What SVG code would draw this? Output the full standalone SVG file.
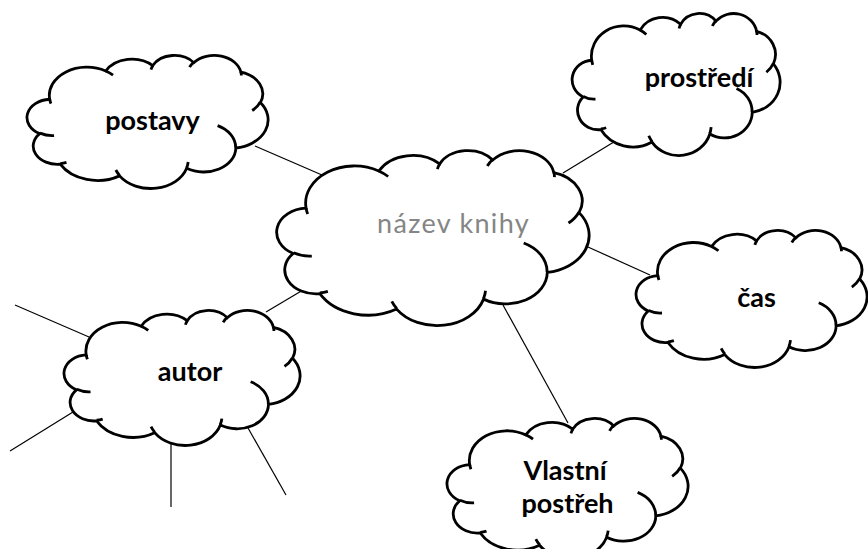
<svg xmlns="http://www.w3.org/2000/svg" xmlns:xlink="http://www.w3.org/1999/xlink" width="868" height="549" viewBox="0 0 868 549">
<style>
.conn line { stroke: #000; stroke-width: 1.2; fill: none; }
.lbl { font-family: Lato, "Open Sans", "Liberation Sans", sans-serif; font-weight: bold; font-size: 27px; fill: #000; text-anchor: middle; }
.title { font-family: Lato, "Open Sans", "Liberation Sans", sans-serif; font-weight: normal; font-size: 27px; fill: #858585; text-anchor: middle; letter-spacing: 1.3px; }
</style>
<defs>
<g id="cloud">
<path fill="#fff" stroke="#000" stroke-width="2.8" vector-effect="non-scaling-stroke" d="M3900,14370 A6753,9190 0 0 1 14005,5202 A5333,7267 0 0 1 22456,3433 A4365,5945 0 0 1 29833,2481 A4857,6595 0 0 1 38318,5576 A5333,7273 0 0 1 41819,15460 A6775,9220 0 0 1 37405,30203 A5785,7867 0 0 1 28556,36814 A6752,9215 0 0 1 16481,39265 A7720,10543 0 0 1 5805,35470 A4360,5918 0 0 1 2114,25549 A4345,5945 0 0 1 3900,14370 Z"/>
<path fill="none" stroke="#000" stroke-width="2.8" vector-effect="non-scaling-stroke" d="M4693,26177 A4345,5945 0 0 1 2160,25380 M6928,34899 A4360,5918 0 0 1 5820,35281 M16478,39090 A6752,9215 0 0 1 15810,37350 M28827,34751 A6752,9215 0 0 1 28560,36660 M34129,22954 A5785,7867 0 0 1 37381,30090 M41798,15354 A5333,7273 0 0 1 40350,18030 M38324,5426 A4857,6595 0 0 1 38401,6690 M29078,3952 A4857,6595 0 0 1 29820,2340 M22141,4720 A4365,5945 0 0 1 22500,3330 M14000,5192 A6753,9190 0 0 1 15300,6541 M4127,15789 A6753,9190 0 0 1 3900,14370"/>
</g>
</defs>
<rect width="868" height="549" fill="#fff"/>
<g id="connectors" class="conn">
<line x1="255" y1="146" x2="322" y2="175"/>
<line x1="563" y1="173" x2="622" y2="137"/>
<line x1="588" y1="247" x2="650" y2="275"/>
<line x1="503" y1="305" x2="568" y2="423"/>
<line x1="266" y1="312" x2="303" y2="290"/>
<line x1="15" y1="305" x2="89" y2="337"/>
<line x1="10" y1="451" x2="73" y2="412"/>
<line x1="171" y1="443" x2="171" y2="507"/>
<line x1="248" y1="428" x2="286" y2="495"/>
</g>
<g id="nazev-knihy">
<use xlink:href="#cloud" transform="translate(278,150) scale(0.0071991,0.0040509)"/>
<text class="title" x="453.5" y="233">název knihy</text>
</g>
<g id="postavy">
<use xlink:href="#cloud" transform="translate(28,55) scale(0.0055556,0.0030787)"/>
<text class="lbl" x="152.5" y="130">postavy</text>
</g>
<g id="prostredi">
<use xlink:href="#cloud" transform="translate(573,13) scale(0.0047917,0.0032870)"/>
<text class="lbl" x="699" y="87">prostředí</text>
</g>
<g id="cas">
<use xlink:href="#cloud" transform="translate(637,230) scale(0.0053241,0.0031713)"/>
<text class="lbl" x="756.5" y="307">čas</text>
</g>
<g id="autor">
<use xlink:href="#cloud" transform="translate(65,310) scale(0.0054398,0.0031250)"/>
<text class="lbl" x="190" y="381">autor</text>
</g>
<g id="vlastni-postreh">
<use xlink:href="#cloud" transform="translate(448,418) scale(0.0055556,0.0032407)"/>
<text class="lbl" x="565" y="480">Vlastní</text>
<text class="lbl" x="567.5" y="513">postřeh</text>
</g>
</svg>
